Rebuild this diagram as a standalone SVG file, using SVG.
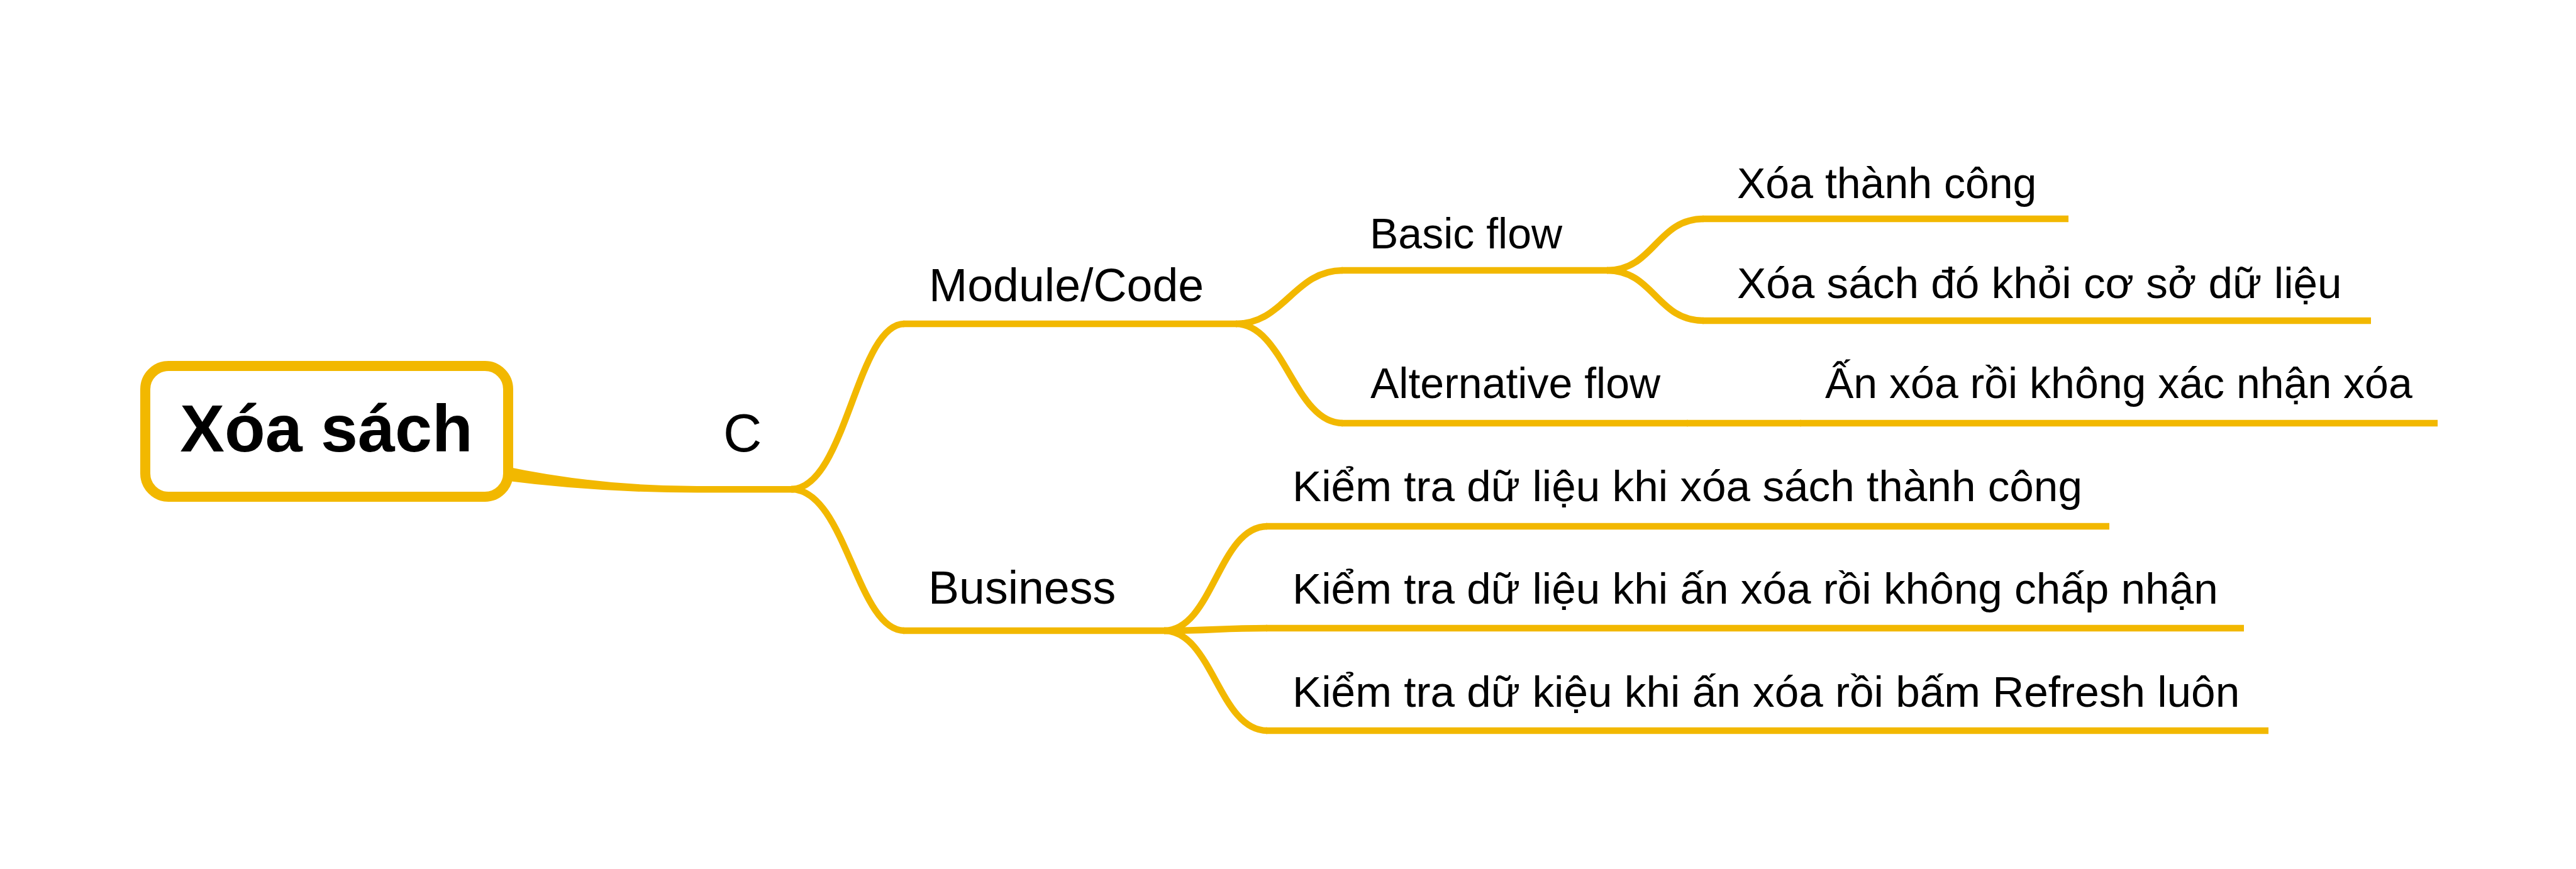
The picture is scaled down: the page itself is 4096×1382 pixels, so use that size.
<svg xmlns="http://www.w3.org/2000/svg" width="4096" height="1382" viewBox="0 0 4096 1382">
<defs>
<style>
.t{font-family:"Liberation Sans",Arial,sans-serif;font-size:68px;fill:#000}
.t2{font-family:"Liberation Sans",Arial,sans-serif;font-size:69.3px;fill:#000}
.t1{font-family:"Liberation Sans",Arial,sans-serif;font-size:73.5px;fill:#000}
.root{font-family:"Liberation Sans",Arial,sans-serif;font-size:106px;font-weight:bold;fill:#000}
.c{font-family:"Liberation Sans",Arial,sans-serif;font-size:85px;fill:#000}
.ln{fill:none;stroke:#F2B800;stroke-width:10.5;stroke-linecap:butt}
.fill{fill:#F2B800;stroke:none}
</style>
</defs>
<rect width="4096" height="1382" fill="#fff"/>
<g id="connectors">
<path class="fill" d="M800,741 Q950,773 1108,773 L1262,773 L1262,783.5 L1108,783.5 Q950,783.5 800,764 Z"/>
<path class="ln" d="M1258,778 C1345,778 1362,515 1438,515"/>
<path class="ln" d="M1258,778 C1345,778 1362,1003 1438,1003"/>
<path class="ln" d="M1965,515 C2042,515 2058,430 2135,430"/>
<path class="ln" d="M1965,515 C2042,515 2058,673 2135,673"/>
<path class="ln" d="M2555,430 C2630,430 2634,348 2709,348"/>
<path class="ln" d="M2555,430 C2630,430 2634,510 2709,510"/>
<path class="ln" d="M2682,673 L2864,673"/>
<path class="ln" d="M1851,1003 C1928,1003 1938,837 2015,837"/>
<path class="ln" d="M1851,1003 C1928,1003 1938,999 2015,999"/>
<path class="ln" d="M1851,1003 C1928,1003 1938,1162 2015,1162"/>
</g>
<g id="root">
<rect x="231" y="582" width="577" height="208" rx="37" ry="37" fill="#fff" stroke="#F2B800" stroke-width="16"/>
<text class="root" x="519" y="718" text-anchor="middle">Xóa sách</text>
</g>
<g id="label-c">
<text class="c" x="1150" y="718">C</text>
</g>
<g id="module-code">
<path class="ln" d="M1436,515 L1967,515"/>
<text class="t1" x="1477" y="479">Module/Code</text>
</g>
<g id="basic-flow">
<path class="ln" d="M2133,430 L2557,430"/>
<text class="t" x="2178" y="395">Basic flow</text>
</g>
<g id="xoa-thanh-cong">
<path class="ln" d="M2707,348 L3289,348"/>
<text class="t" x="2762" y="315">Xóa thành công</text>
</g>
<g id="xoa-sach-do">
<path class="ln" d="M2707,510 L3770,510"/>
<text class="t2" x="2762" y="474">Xóa sách đó khỏi cơ sở dữ liệu</text>
</g>
<g id="alternative-flow">
<path class="ln" d="M2133,673 L2684,673"/>
<text class="t" x="2179" y="633">Alternative flow</text>
</g>
<g id="an-xoa">
<path class="ln" d="M2862,673 L3876,673"/>
<text class="t" x="2902" y="633">Ấn xóa rồi không xác nhận xóa</text>
</g>
<g id="business">
<path class="ln" d="M1436,1003 L1853,1003"/>
<text class="t1" x="1476" y="960">Business</text>
</g>
<g id="kiem-tra-1">
<path class="ln" d="M2013,837 L3354,837"/>
<text class="t2" x="2055" y="797">Kiểm tra dữ liệu khi xóa sách thành công</text>
</g>
<g id="kiem-tra-2">
<path class="ln" d="M2013,999 L3568,999"/>
<text class="t2" x="2055" y="960">Kiểm tra dữ liệu khi ấn xóa rồi không chấp nhận</text>
</g>
<g id="kiem-tra-3">
<path class="ln" d="M2013,1162 L3607,1162"/>
<text class="t2" x="2055" y="1124">Kiểm tra dữ kiệu khi ấn xóa rồi bấm Refresh luôn</text>
</g>
</svg>
